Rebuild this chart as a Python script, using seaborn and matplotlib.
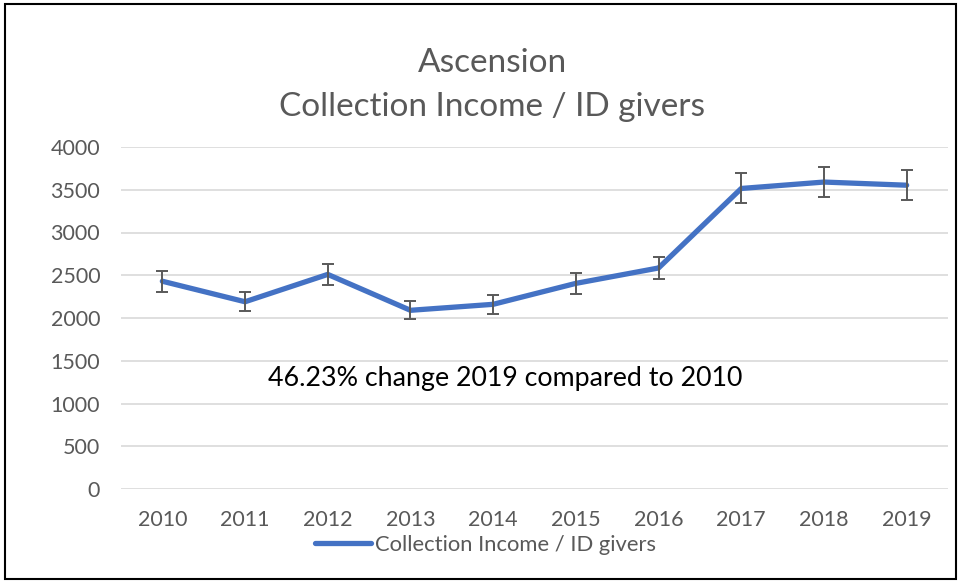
import matplotlib.pyplot as plt
import seaborn as sns
import pandas as pd
import numpy as np
from matplotlib.patches import Rectangle

# data
years = ["2010", "2011", "2012", "2013", "2014", "2015", "2016", "2017", "2018", "2019"]
income_per_giver = [2430, 2190, 2510, 2090, 2160, 2405, 2585, 3515, 3590, 3553]
error_pct = 0.05  # Excel style 5% error bars
series_name = "Collection Income / ID givers"
note = "46.23% change 2019 compared to 2010"

df = pd.DataFrame({"year": years, "value": income_per_giver})
df["pos"] = np.arange(len(years))

sns.set_style("white")
plt.rcParams["font.family"] = ["Lato", "DejaVu Sans"]

grey = "#595959"
blue = "#4472C4"

fig = plt.figure(figsize=(9.61, 5.82), dpi=100)
ax = fig.add_axes([121 / 961, 1 - 489 / 582, (948 - 121) / 961, (489 - 147) / 582])

sns.lineplot(data=df, x="pos", y="value", color=blue, linewidth=3.8,
             label=series_name, ax=ax, zorder=3)
ax.errorbar(df["pos"], df["value"], yerr=df["value"] * error_pct, fmt="none",
            ecolor=grey, elinewidth=1.4, capsize=4, capthick=1.4, zorder=4)

ax.set_xlim(-0.5, len(years) - 0.5)
ax.set_ylim(0, 4000)
ax.set_yticks(range(0, 4001, 500))
ax.set_xticks(df["pos"])
ax.set_xticklabels(years)
ax.set_xlabel("")
ax.set_ylabel("")
ax.grid(axis="y", color="#D9D9D9", linewidth=1.2)
ax.set_axisbelow(True)
for s in ax.spines.values():
    s.set_visible(False)
ax.tick_params(axis="both", length=0, labelsize=15.5, labelcolor=grey)
ax.tick_params(axis="y", pad=15)
ax.tick_params(axis="x", pad=15)

fig.text(0.512, 1 - 63 / 582, "Ascension", ha="center", va="center", fontsize=24, color=grey)
fig.text(0.512, 1 - 107 / 582, series_name, ha="center", va="center", fontsize=24, color=grey)

ax.text(4.15, 1290, note, ha="center", va="center", fontsize=19.3, color="black")

leg = ax.legend(loc="center", bbox_to_anchor=(0.441, -0.163), frameon=False,
                fontsize=15.8, handlelength=2.55, handletextpad=0.2, borderpad=0)
for t in leg.get_texts():
    t.set_color(grey)

fig.patches.append(Rectangle((5 / 961, 3 / 582), 951 / 961, 575 / 582, transform=fig.transFigure,
                             fill=False, edgecolor="black", linewidth=1.5))

plt.savefig("out.png", dpi=100)
